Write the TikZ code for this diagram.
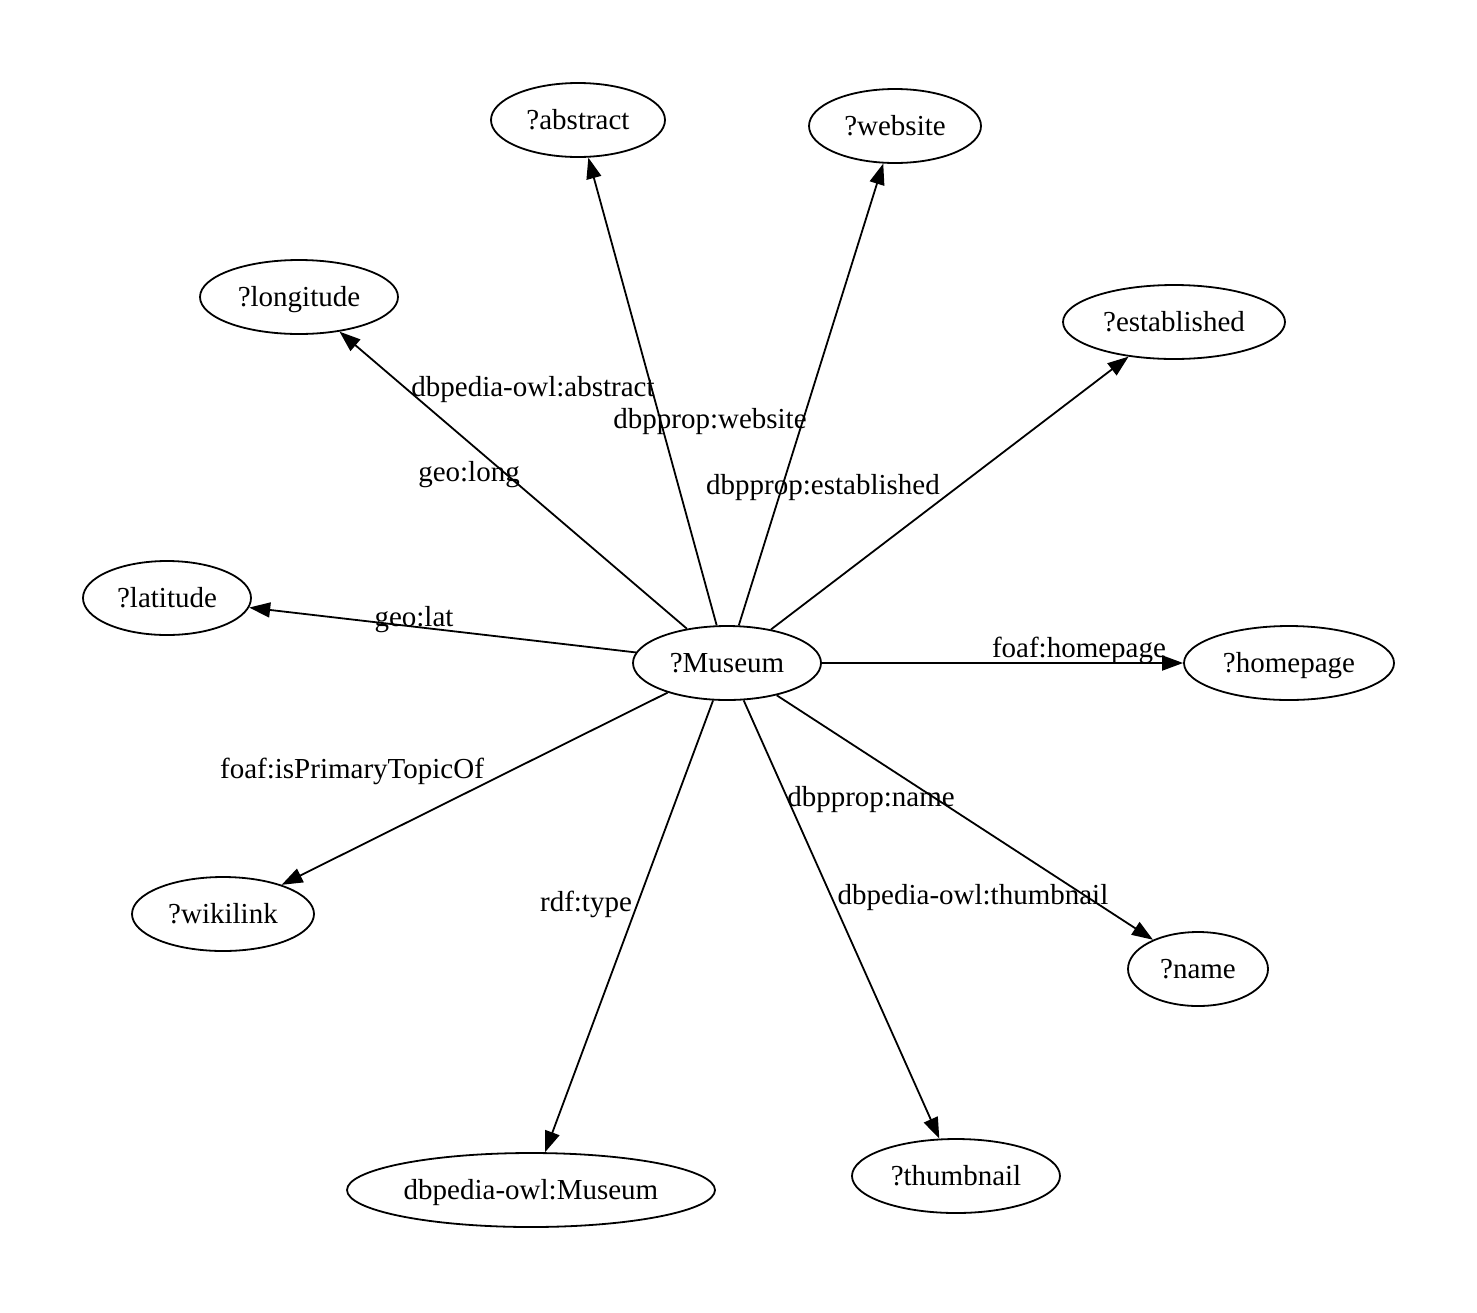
\documentclass[tikz,border=0pt]{standalone}
\usepackage{fontspec}
\setmainfont{Liberation Serif}
\usetikzlibrary{shapes.geometric,arrows.meta}
\begin{document}
\begin{tikzpicture}[x=1pt,y=-1pt,
  every node/.style={font=\fontsize{29}{30}\selectfont,text height=23pt,text depth=5pt},
  nd/.style={draw,ellipse,line width=1.8pt,inner sep=0pt,minimum height=74pt},
  edge/.style={line width=1.8pt,-{Triangle[length=21pt,width=15pt]}},
  lbl/.style={inner sep=0pt}]
\useasboundingbox (0,0) rectangle (1477,1312);
\node[nd,minimum width=174pt] (abstract) at (578,120) {?abstract};
\node[nd,minimum width=172pt] (website) at (895,126) {?website};
\node[nd,minimum width=198pt] (longitude) at (299,297) {?longitude};
\node[nd,minimum width=222pt] (established) at (1174,322) {?established};
\node[nd,minimum width=168pt] (latitude) at (167,598) {?latitude};
\node[nd,minimum width=188pt] (museum) at (727,663) {?Museum};
\node[nd,minimum width=210pt] (homepage) at (1289,663) {?homepage};
\node[nd,minimum width=182pt] (wikilink) at (223,914) {?wikilink};
\node[nd,minimum width=140pt] (name) at (1198,969) {?name};
\node[nd,minimum width=368pt] (dbmuseum) at (531,1190) {dbpedia-owl:Museum};
\node[nd,minimum width=208pt] (thumbnail) at (956,1176) {?thumbnail};
\draw[edge] (museum) -- (abstract);
\draw[edge] (museum) -- (website);
\draw[edge] (museum) -- (longitude);
\draw[edge] (museum) -- (established);
\draw[edge] (museum) -- (latitude);
\draw[edge] (museum) -- (homepage);
\draw[edge] (museum) -- (wikilink);
\draw[edge] (museum) -- (name);
\draw[edge] (museum) -- (dbmuseum);
\draw[edge] (museum) -- (thumbnail);
\node[lbl] (l1) at (533,387) {dbpedia-owl:abstract};
\node[lbl] (l2) at (710,419) {dbpprop:website};
\node[lbl] (l3) at (469,472) {geo:long};
\node[lbl] (l4) at (823,485) {dbpprop:established};
\node[lbl] (l5) at (414,617) {geo:lat};
\node[lbl] (l6) at (1079,648) {foaf:homepage};
\node[lbl] (l7) at (352,769) {foaf:isPrimaryTopicOf};
\node[lbl] (l8) at (871,797) {dbpprop:name};
\node[lbl] (l9) at (586,902) {rdf:type};
\node[lbl] (l10) at (973,895) {dbpedia-owl:thumbnail};
\end{tikzpicture}
\end{document}
